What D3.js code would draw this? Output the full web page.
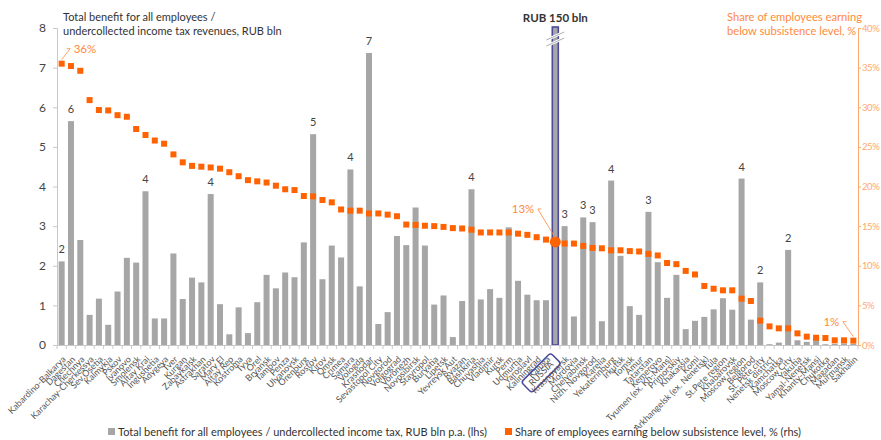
<!DOCTYPE html>
<html>
<head>
<meta charset="utf-8">
<script src="https://cdn.jsdelivr.net/npm/d3@7"></script>
<style>
  html, body { margin: 0; padding: 0; background: #fff; }
  svg { display: block; font-family: Lato, "Open Sans", sans-serif; }
</style>
</head>
<body>
<svg id="chart" width="881" height="440"></svg>
<script>
const regions = ["Kabardino-Balkarya","Dagestan","Chechnya","Karachay-Cherkessya","Sev.Osetia","Kalmykia","Pskov","Ivanovo","Smolensk","Altay Krai","Ingushetia","Adygeya","Tver","Kurgan","Zabaykalsk","Astrakhan","Saratov","Mary El","Altay Rep","Kostroma","Tyva","Orel","Bryansk","Tambov","Penza","Ulyanovsk","Orenburg","Rostov","Kirov","Omsk","Crimea","Samara","Vologda","Krasnodar","Sevastopol City","Novgorod","Volgograd","Voronezh","Novosibirsk","Stavropol","Buryatia","Lipetsk","Yevreysk Aut","Ryazan","Bashkiria","Chuvashia","Vladimir","Kursk","Perm","Udmurtia","Yaroslavl","Kaliningrad","Kaluga","RUSSIA","Krasnoyarsk","Mordovia","Chelyabinsk","Nizh. Novgorod","Karelia","Yekaterinburg","Irkutsk","Tomsk","Amur","Tatarstan","Kemerovo","Tyumen (ex. Kh-Mans)","Primorskiy","Khakassia","Komi","Arkhangelsk (ex. Nenetsk)","Tula","St.Pete region","Khabarovsk","Moscow region","Belgorod","St. Pete city","Nenetsk district","Kamchatka","Moscow City","Yakutia","Yamal-Nenetsk","Khanty-Mansi","Chukotka","Magadan","Murmansk","Sakhalin"];

// Total benefit for all employees, RUB bln p.a. (lhs)
const benefit = [2.11,5.65,2.65,0.76,1.17,0.51,1.35,2.2,2.08,3.88,0.67,0.67,2.31,1.16,1.70,1.58,3.81,1.03,0.27,0.95,0.30,1.08,1.77,1.43,1.83,1.71,2.59,5.32,1.66,2.51,2.21,4.43,1.48,7.37,0.53,0.83,2.75,2.52,3.47,2.51,1.02,1.25,0.2,1.11,3.93,1.15,1.41,1.19,2.97,1.62,1.27,1.13,1.13,150,3.0,0.72,3.22,3.1,0.6,4.15,2.25,0.98,0.76,3.36,2.09,1.19,1.77,0.4,0.61,0.71,0.9,1.18,0.89,4.2,0.64,1.58,0.02,0.06,2.4,0.12,0.08,0.17,0.02,0.03,0.04,0.03];

// Share of employees earning below subsistence level, % (rhs)
const share = [35.5,35.2,34.6,30.9,29.65,29.6,29.0,28.8,27.25,26.5,25.8,25.4,24.05,23.05,22.6,22.5,22.4,22.25,21.8,21.3,20.8,20.65,20.5,20.1,19.65,19.55,18.8,18.75,18.3,18.0,17.1,16.95,16.95,16.6,16.6,16.45,16.25,15.2,15.15,15.05,15.0,14.9,14.75,14.7,14.55,14.2,14.2,14.2,14.2,14.05,13.9,13.6,13.3,13.0,12.8,12.8,12.5,12.25,12.2,11.95,11.95,11.85,11.8,11.5,11.3,10.35,10.2,9.35,8.9,7.45,7.1,6.9,6.9,5.85,5.55,3.07,2.35,2.1,2.1,1.47,1.05,0.92,0.88,0.59,0.59,0.55];

// bars that carry a rounded value label
const labelledBars = ["Kabardino-Balkarya","Dagestan","Altay Krai","Saratov","Rostov","Samara","Krasnodar","Bashkiria","Krasnoyarsk","Chelyabinsk","Nizh. Novgorod","Yekaterinburg","Tatarstan","Moscow region","St. Pete city","Moscow City"];
// share points that carry a % annotation
const annotatedPoints = ["Kabardino-Balkarya","RUSSIA","Sakhalin"];

const leftTicks = [0,1,2,3,4,5,6,7,8];
const rightTicks = [0,5,10,15,20,25,30,35,40];
const highlight = "RUSSIA";
const highlightLabel = "RUB 150 bln";

const titleLeft = ["Total  benefit for all employees /", "undercollected income tax revenues, RUB bln"];
const titleRight = ["Share of employees earning", "below subsistence level, %"];
const legendItems = ["Total benefit for all employees / undercollected income tax, RUB bln p.a. (lhs)", "Share of employees earning below subsistence level, % (rhs)"];

const svg = d3.select("#chart");
const L = 57, R = 858, T = 28, B = 345;
const grey = "#a6a6a6", orange = "#ff6200", orangeText = "#ff8a3d", orangeAxis = "#ffa86e", blue = "#4b4a9c";

const x = d3.scaleBand().domain(regions).range([L, R]).padding(0);
const yL = d3.scaleLinear().domain([0, 8]).range([B, T]);
const yR = d3.scaleLinear().domain([0, 40]).range([B, T]);
const bw = 6;
const cx = d => x(d) + x.bandwidth() / 2;

const data = regions.map((r, i) => ({ r, v: benefit[i], s: share[i] }));

// bars
svg.append("g").selectAll("rect").data(data).join("rect")
  .attr("x", d => cx(d.r) - bw / 2)
  .attr("width", bw)
  .attr("y", d => Math.max(yL(d.v), T - 1))
  .attr("height", d => B - Math.max(yL(d.v), T - 1))
  .attr("fill", grey)
  .attr("stroke", d => d.r === highlight ? blue : "none")
  .attr("stroke-width", 1.6);

// axis break on highlight bar
const hx = cx(highlight);
const brk = svg.append("g");
[36, 42].forEach(yy => {
  brk.append("path")
    .attr("d", `M${hx - 9},${yy + 4} L${hx + 9},${yy - 4}`)
    .attr("stroke", "#fff").attr("stroke-width", 3);
  brk.append("path")
    .attr("d", `M${hx - 9},${yy + 4} L${hx + 9},${yy - 4}`)
    .attr("stroke", "#999").attr("stroke-width", 0.8);
});
svg.append("text").attr("x", hx).attr("y", 22).attr("text-anchor", "middle")
  .attr("font-size", 11.5).attr("font-weight", "bold").attr("fill", "#333").text(highlightLabel);

// value labels
svg.append("g").selectAll("text").data(data.filter(d => labelledBars.includes(d.r))).join("text")
  .attr("x", d => cx(d.r)).attr("y", d => yL(d.v) - 8)
  .attr("text-anchor", "middle").attr("font-size", 11).attr("fill", "#444")
  .text(d => Math.round(d.v));

// left axis
const gl = svg.append("g").attr("transform", `translate(${L},0)`)
  .call(d3.axisLeft(yL).tickValues(leftTicks).tickSize(4).tickPadding(7).tickFormat(d3.format("d")));
gl.select(".domain").attr("stroke", "#c8c8c8");
gl.selectAll(".tick line").attr("stroke", "#c8c8c8");
gl.selectAll(".tick text").attr("font-size", 12).attr("fill", "#444").attr("font-family", "Lato");

// right axis
const gr = svg.append("g").attr("transform", `translate(${R},0)`)
  .call(d3.axisRight(yR).tickValues(rightTicks).tickSize(3).tickPadding(1).tickFormat(d => d + "%"));
gr.select(".domain").attr("stroke", orangeAxis);
gr.selectAll(".tick line").attr("stroke", orangeAxis);
gr.selectAll(".tick text").attr("font-size", 9.5).attr("letter-spacing", -0.4).attr("fill", orangeAxis).attr("font-family", "Lato");

// bottom axis
svg.append("line").attr("x1", L).attr("x2", R).attr("y1", B + 0.5).attr("y2", B + 0.5).attr("stroke", "#c8c8c8");
svg.append("g").selectAll("line").data(regions.concat(["__end"])).join("line")
  .attr("x1", d => d === "__end" ? R : x(d)).attr("x2", d => d === "__end" ? R : x(d))
  .attr("y1", B).attr("y2", B + 4).attr("stroke", "#c8c8c8");

const labelTf = d => d === highlight ? "translate(-5,16) rotate(-45)" : "translate(1,11) rotate(-45)";
const gx = svg.append("g").attr("transform", `translate(0,${B})`)
  .call(d3.axisBottom(x).tickSize(0).tickPadding(0));
gx.select(".domain").remove();
gx.selectAll(".tick text")
  .attr("font-size", 9).attr("fill", "#555").attr("font-family", "Lato")
  .attr("text-anchor", "end")
  .attr("transform", labelTf)
  .attr("dy", "0.6em").attr("y", 0).attr("x", 0);

// highlight label box
const hb = gx.selectAll(".tick").filter(d => d === highlight);
const bb = hb.select("text").node().getBBox();
hb.insert("rect", "text")
  .attr("x", bb.x - 5).attr("y", bb.y - 2).attr("width", bb.width + 10).attr("height", bb.height + 4)
  .attr("rx", 3).attr("fill", "none").attr("stroke", blue).attr("stroke-width", 1.5)
  .attr("transform", labelTf(highlight));

// share points
svg.append("g").selectAll("rect").data(data.filter(d => d.r !== highlight)).join("rect")
  .attr("x", d => cx(d.r) - 3).attr("y", d => yR(d.s) - 3)
  .attr("width", 6).attr("height", 6).attr("fill", orange);
svg.append("circle").attr("cx", hx).attr("cy", yR(share[regions.indexOf(highlight)]))
  .attr("r", 5.5).attr("fill", orange);

// annotations
const ann = svg.append("g");
const annOffsets = { "Kabardino-Balkarya": [10, -11, "start"], "RUSSIA": [-19, -29, "end"], "Sakhalin": [-12, -15, "end"] };
annotatedPoints.forEach(r => {
  const d = data[regions.indexOf(r)];
  const px = cx(r), py = yR(d.s);
  const [dx, dy, anchor] = annOffsets[r];
  const tx = px + dx, ty = py + dy;
  const hook = anchor === "start" ? -5 : 5;
  ann.append("path")
    .attr("d", `M${px},${py - 4} L${tx + hook * 0.3},${ty - 4} L${tx + hook},${ty - 4}`)
    .attr("fill", "none").attr("stroke", orangeText).attr("stroke-width", 0.8);
  ann.append("text")
    .attr("x", anchor === "start" ? tx + 2 : tx - 2)
    .attr("y", ty).attr("text-anchor", anchor)
    .attr("font-size", 11.5).attr("fill", orangeText).text(Math.round(d.s) + "%");
});

// titles
svg.append("text").attr("y", 21).attr("font-size", 11).attr("fill", "#333")
  .selectAll("tspan").data(titleLeft).join("tspan")
  .attr("x", 63).attr("dy", (d, i) => i ? 14 : 0).text(d => d);
svg.append("text").attr("y", 21).attr("font-size", 11.2).attr("fill", orangeText)
  .selectAll("tspan").data(titleRight).join("tspan")
  .attr("x", 727).attr("dy", (d, i) => i ? 14 : 0).text(d => d);

// legend
const lg = svg.append("g");
lg.append("rect").attr("x", 108).attr("y", 428).attr("width", 7).attr("height", 7).attr("fill", grey);
lg.append("text").attr("x", 118).attr("y", 436).attr("font-size", 11).attr("fill", "#333").text(legendItems[0]);
lg.append("rect").attr("x", 505).attr("y", 428).attr("width", 7).attr("height", 7).attr("fill", orange);
lg.append("text").attr("x", 515).attr("y", 436).attr("font-size", 11).attr("fill", "#333").text(legendItems[1]);
</script>
</body>
</html>
